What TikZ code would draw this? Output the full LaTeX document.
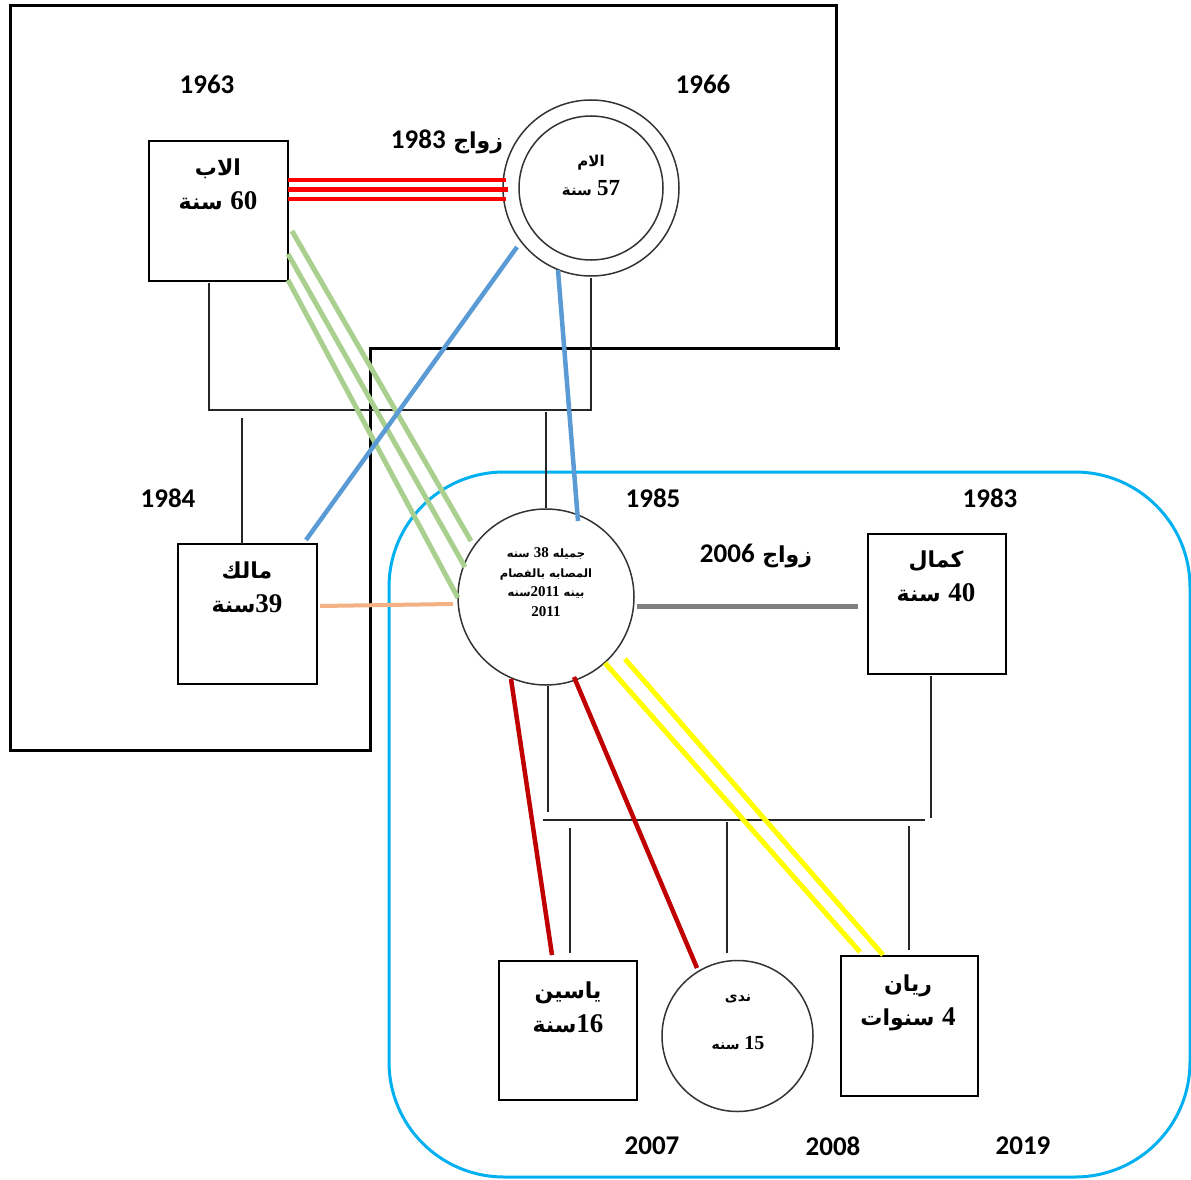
\documentclass[tikz,border=0pt]{standalone}
\usepackage{fontspec}
\TeXXeTstate=1
\newfontfamily\arabicfont[Script=Arabic]{DejaVu Sans}
\newfontfamily\numfont{Liberation Serif}
\newfontfamily\yearfont{Carlito}
\usetikzlibrary{calc}
\newcommand{\NUM}[2][27]{\beginL{\numfont\bfseries\fontsize{#1}{#1}\selectfont #2}\endL}
\newcommand{\YNUM}[1]{\beginL{\yearfont\bfseries\fontsize{27}{30}\selectfont #1}\endL}
\definecolor{cyanline}{RGB}{0,176,240}
\definecolor{greenline}{RGB}{169,208,142}
\definecolor{blueline}{RGB}{91,155,213}
\definecolor{orangeline}{RGB}{244,177,131}
\definecolor{grayline}{RGB}{128,128,128}
\definecolor{darkredline}{RGB}{192,0,0}
\definecolor{yellowline}{RGB}{255,255,0}
\begin{document}
\begin{tikzpicture}[x=1pt,y=-1pt,
  personbox/.style={draw=black, line width=1.5pt, minimum width=139pt, minimum height=140pt, inner sep=0pt},
  personcircle/.style={draw=black!80, line width=1.5pt, circle, minimum size=#1, inner sep=0pt},
  lbl/.style={align=center, inner sep=0pt, font=\arabicfont\bfseries\fontsize{22}{34}\selectfont},
  smalllbl/.style={align=center, inner sep=0pt, font=\arabicfont\bfseries\fontsize{11.5}{19.5}\selectfont},
  yearlbl/.style={inner sep=0pt, font=\yearfont\bfseries\fontsize{27}{30}\selectfont},
  famline/.style={line width=1.4pt, black!85},
  redtrip/.style={line width=4.8pt, red},
  greentrip/.style={line width=5pt, greenline},
  bluecon/.style={line width=4.5pt, blueline},
  orangecon/.style={line width=4pt, orangeline},
  graycon/.style={line width=5pt, grayline},
  darkredcon/.style={line width=4.5pt, darkredline},
  yellowcon/.style={line width=5pt, yellowline},
  frame/.style={line width=3pt, black}
]
\useasboundingbox (0,0) rectangle (1191,1180);
\fill[white] (0,0) rectangle (1191,1180);

% frames
\draw[frame] (10,6) -- (836,6) -- (836,348) -- (370,348) -- (370,750) -- (10,750) -- cycle;
\draw[frame] (836,348) -- (840,348);
\draw[line width=3pt, cyanline, rounded corners=115pt] (389,472) rectangle (1190,1177);

% persons
\node[personbox] (father) at (218.5,211) {};
\node[personcircle=176pt] (mother) at (591,188) {};
\draw[line width=1.5pt, black!80] (mother.center) circle (72);
\node[personbox] (malik) at (247.5,614) {};
\node[personcircle=176pt] (jamila) at (546,597) {};
\node[personbox, minimum width=138pt] (kamal) at (937,604) {};
\node[personbox, minimum width=138pt, minimum height=139pt] (yassin) at (568,1030.5) {};
\node[personcircle=151pt] (nada) at (737.5,1036) {};
\node[personbox, minimum width=137pt] (rayan) at (909.5,1026) {};

% labels in persons
\node[lbl] (fatherlbl) at (218,184) {\beginR الاب\endR\\ \beginR\NUM{60} سنة\endR};
\node[lbl, font=\arabicfont\bfseries\fontsize{15}{29}\selectfont] (motherlbl) at (591,175) {\beginR الام\endR\\ \beginR\NUM[23]{57} سنة\endR};
\node[lbl] (maliklbl) at (247,587) {\beginR مالك\endR\\ \beginR\NUM{39}سنة\endR};
\node[lbl] (kamallbl) at (936,576) {\beginR كمال\endR\\ \beginR\NUM{40} سنة\endR};
\node[lbl] (yassinlbl) at (568,1007) {\beginR ياسين\endR\\ \beginR\NUM{16}سنة\endR};
\node[lbl] (rayanlbl) at (908,1003) {\beginR ريان\endR\\ \beginR\NUM{4} سنوات\endR};
\node[lbl, font=\arabicfont\bfseries\fontsize{14}{48}\selectfont] (nadalbl) at (738,1022) {\beginR ندى\endR\\ \beginR\NUM[20]{15} سنه\endR};
\node[smalllbl] (jamilalbl) at (546,582) {\beginR جميله \NUM[15]{38} سنه\endR\\
  \beginR المصابه بالفصام\endR\\
  \beginR بينه \NUM[15]{2011}سنه\endR\\
  \NUM[15]{2011}};

% years and marriage labels
\node[yearlbl] (y1963) at (207,84) {1963};
\node[yearlbl] (y1966) at (703,84) {1966};
\node[yearlbl] (y1984) at (168,498) {1984};
\node[yearlbl] (y1985) at (653,498) {1985};
\node[yearlbl] (y1983) at (990,498) {1983};
\node[yearlbl] (y2007) at (652,1146) {2007};
\node[yearlbl] (y2008) at (833,1146) {2008};
\node[yearlbl] (y2019) at (1023,1146) {2019};
\node[inner sep=0pt, font=\arabicfont\bfseries\fontsize{22}{26}\selectfont] (m1983) at (447,142) {\beginR زواج \YNUM{1983}\endR};
\node[inner sep=0pt, font=\arabicfont\bfseries\fontsize{22}{26}\selectfont] (m2006) at (756,556) {\beginR زواج \YNUM{2006}\endR};

% red marriage lines
\draw[redtrip] ($(father.center)+(69.5,-31)$) -- ($(mother.center)+(-85,-8)$);
\draw[redtrip] ($(father.center)+(69.5,-21.5)$) -- ($(mother.center)+(-83,1.5)$);
\draw[redtrip] ($(father.center)+(69.5,-12)$) -- ($(mother.center)+(-85,11)$);

% first family lines
\coordinate (fdrop) at ($(father.center)+(-9.5,72)$);
\coordinate (mdrop) at ($(mother.center)+(0,90)$);
\draw[famline] (fdrop) -- (fdrop |- 0,410) -- (mdrop |- 0,410) -- (mdrop);
\coordinate (maliktop) at ($(malik.center)+(-5.5,-70)$);
\draw[famline] (maliktop) -- (maliktop |- 0,418);
\draw[famline] (jamila.north) -- (jamila.north |- 0,412);

% green lines
\draw[greentrip] ($(father.center)+(73.5,20)$) -- ($(jamila.center)+(-75,-56)$);
\draw[greentrip] ($(father.center)+(69.5,43)$) -- ($(jamila.center)+(-81,-30)$);
\draw[greentrip] ($(father.center)+(69.5,69)$) -- ($(jamila.center)+(-88,1)$);

% blue lines
\draw[bluecon] ($(mother.center)+(-74,59)$) -- ($(malik.center)+(58.5,-74)$);
\draw[bluecon] ($(mother.center)+(-33,82)$) -- ($(jamila.center)+(32,-76)$);

% orange and gray
\draw[orangecon] ($(malik.center)+(72.5,-8)$) -- ($(jamila.center)+(-93,7)$);
\draw[graycon] ($(jamila.center)+(91,9)$) -- ($(kamal.center)+(-79,2)$);

% second family lines
\coordinate (jdrop) at ($(jamila.center)+(2,89)$);
\coordinate (kdrop) at ($(kamal.center)+(-6,72)$);
\draw[famline] (jdrop) -- (jdrop |- 0,812);
\draw[famline] (kdrop) -- (kdrop |- 0,818);
\draw[famline] (543,820) -- (925,820);
\coordinate (ytop) at ($(yassin.center)+(2,-77.5)$);
\coordinate (ntop) at ($(nada.center)+(-10.5,-83)$);
\coordinate (rtop) at ($(rayan.center)+(-0.5,-76)$);
\draw[famline] (ytop) -- (ytop |- 0,828);
\draw[famline] (ntop) -- (ntop |- 0,822);
\draw[famline] (rtop) -- (rtop |- 0,826);

% dark red and yellow
\draw[darkredcon] ($(jamila.center)+(-35,82)$) -- ($(yassin.center)+(-16,-75.5)$);
\draw[darkredcon] ($(jamila.center)+(28,80)$) -- ($(nada.center)+(-40.5,-68)$);
\draw[yellowcon] ($(jamila.center)+(59,66)$) -- ($(rayan.center)+(-49.5,-74)$);
\draw[yellowcon] ($(jamila.center)+(79,62)$) -- ($(rayan.center)+(-26.5,-71)$);
\end{tikzpicture}
\end{document}
